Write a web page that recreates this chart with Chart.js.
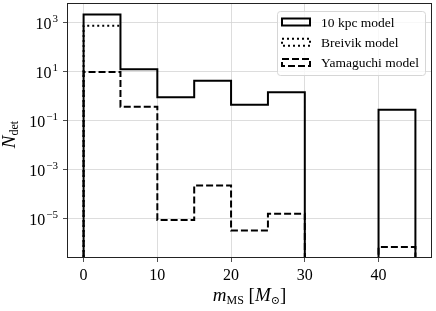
<!DOCTYPE html>
<html>
<head>
<meta charset="utf-8">
<script src="https://cdn.jsdelivr.net/npm/chart.js@4.4.0/dist/chart.umd.min.js"></script>
<style>
html, body { margin: 0; padding: 0; background: #fff; }
#wrap { width: 436px; height: 311px; position: relative; }
</style>
</head>
<body>
<div id="wrap"><canvas id="histChart"></canvas></div>
<script>
// histogram bins (M_sun) and counts per bin
const binEdges = [0, 5, 10, 15, 20, 25, 30, 35, 40, 45];
const tenKpc = [2130, 12.5, 0.9, 4.3, 0.45, 1.45, 0, 0, 0.28];
const breivik = [750, null, null, null, null, null, null, null, null];
const yamaguchi = [9.7, 0.37, 9e-6, 2.3e-4, 3.3e-6, 1.6e-5, 0, 0, 7e-7];
const seriesNames = ['10 kpc model', 'Breivik model', 'Yamaguchi model'];
const seriesDash = [[], [2, 3], [7, 3]];
const xTicks = [0, 10, 20, 30, 40];
const yExponents = [3, 1, -1, -3, -5];

const xMin = -2.25, xMax = 47.25;
const yMin = Math.pow(10, -6.6), yMax = Math.pow(10, 3.8);
const serif = "'Liberation Serif', 'DejaVu Serif', serif";

// turn bin values into the outline of a step histogram
function stepPoints(values) {
    const floor = yMin / 100;   // zero bins drop below the axis
    const pts = [{x: binEdges[0], y: floor}];
    values.forEach(function (v, i) {
        if (v === null) {
            pts.push({x: binEdges[i], y: null});
            return;
        }
        const y = v > 0 ? v : floor;
        pts.push({x: binEdges[i], y: y});
        pts.push({x: binEdges[i + 1], y: y});
    });
    pts.push({x: binEdges[binEdges.length - 1], y: floor});
    return pts;
}

const seriesValues = [tenKpc, breivik, yamaguchi];

const extras = {
    id: 'extras',
    afterDraw: function (chart) {
        const c = chart.ctx;
        const a = chart.chartArea;
        const ys = chart.scales.y;

        // y tick labels 10^n
        c.save();
        c.fillStyle = '#000';
        c.textBaseline = 'alphabetic';
        yExponents.forEach(function (e) {
            const py = ys.getPixelForValue(Math.pow(10, e));
            const exp = e < 0 ? '\u2212' + (-e) : String(e);
            c.font = '11px ' + serif;
            const we = c.measureText(exp).width;
            c.font = '16px ' + serif;
            const wb = c.measureText('10').width;
            const right = a.left - 9;
            c.fillText('10', right - we - wb - 1, py + 6);
            c.font = '11px ' + serif;
            c.fillText(exp, right - we, py - 1);
        });
        c.restore();

        // frame
        c.save();
        c.strokeStyle = '#222';
        c.lineWidth = 1;
        c.strokeRect(a.left + 0.5, a.top + 0.5, a.right - a.left - 1, a.bottom - a.top - 1);
        c.restore();

        // x axis title: m_MS [M_sun]
        c.save();
        c.fillStyle = '#000';
        c.textBaseline = 'alphabetic';
        const parts = [
            {t: 'm', f: 'italic 19px ' + serif, dy: 0},
            {t: 'MS', f: '12px ' + serif, dy: 3},
            {t: ' [', f: '19px ' + serif, dy: 0},
            {t: 'M', f: 'italic 19px ' + serif, dy: 0},
            {t: '\u2299', f: '11px ' + serif, dy: 3},
            {t: ']', f: '19px ' + serif, dy: 0}
        ];
        let total = 0;
        parts.forEach(function (p) { c.font = p.f; p.w = c.measureText(p.t).width; total += p.w; });
        let px = (a.left + a.right) / 2 - total / 2;
        parts.forEach(function (p) {
            c.font = p.f;
            c.fillText(p.t, px, 301 + p.dy);
            px += p.w;
        });
        c.restore();

        // y axis title: N_det
        c.save();
        c.translate(15, (a.top + a.bottom) / 2 + 4);
        c.rotate(-Math.PI / 2);
        c.fillStyle = '#000';
        c.font = 'italic 19px ' + serif;
        const wn = c.measureText('N').width;
        c.font = '12px ' + serif;
        const wd = c.measureText('det').width;
        c.font = 'italic 19px ' + serif;
        c.fillText('N', -(wn + wd) / 2, 0);
        c.font = '12px ' + serif;
        c.fillText('det', -(wn + wd) / 2 + wn, 3);
        c.restore();

        // legend in the upper right
        c.save();
        const lx = 277, ly = 11, lw = 148, lh = 64;
        c.beginPath();
        c.roundRect(lx + 0.5, ly + 0.5, lw, lh, 3);
        c.fillStyle = 'rgba(255,255,255,0.8)';
        c.fill();
        c.strokeStyle = '#d6d6d6';
        c.lineWidth = 1;
        c.stroke();
        seriesNames.forEach(function (name, i) {
            const cy = 22 + i * 20.3;
            c.strokeStyle = '#000';
            c.lineWidth = 2;
            c.setLineDash(seriesDash[i]);
            c.strokeRect(282, cy - 3.5, 28, 7);
            c.setLineDash([]);
            c.fillStyle = '#000';
            c.font = '13.5px ' + serif;
            c.textBaseline = 'middle';
            c.fillText(name, 321, cy + 1);
        });
        c.restore();
    }
};

const ctx = document.getElementById('histChart').getContext('2d');
new Chart(ctx, {
    type: 'line',
    data: {
        datasets: seriesNames.map(function (name, i) {
            return {
                label: name,
                data: stepPoints(seriesValues[i]),
                borderColor: '#000',
                borderWidth: 2,
                borderDash: seriesDash[i],
                pointRadius: 0,
                fill: false,
                tension: 0,
                spanGaps: false,
                clip: 0
            };
        })
    },
    options: {
        responsive: true,
        maintainAspectRatio: false,
        animation: false,
        layout: { padding: { top: 3, right: 4, left: 0, bottom: 0 } },
        plugins: {
            legend: { display: false },
            tooltip: { enabled: false }
        },
        scales: {
            x: {
                type: 'linear',
                min: xMin,
                max: xMax,
                afterBuildTicks: function (s) {
                    s.ticks = xTicks.map(function (v) { return {value: v}; });
                },
                afterFit: function (s) { s.height = 53; },
                ticks: {
                    color: '#000',
                    font: { family: serif, size: 16 },
                    padding: 4,
                    maxRotation: 0
                },
                grid: {
                    color: '#d4d4d4',
                    lineWidth: 0.8,
                    tickLength: 4,
                    tickColor: '#222',
                    tickWidth: 0.8
                },
                border: { display: false }
            },
            y: {
                type: 'logarithmic',
                min: yMin,
                max: yMax,
                afterBuildTicks: function (s) {
                    s.ticks = yExponents.map(function (e) { return {value: Math.pow(10, e)}; });
                },
                afterFit: function (s) { s.width = 67; },
                ticks: { display: false },
                grid: {
                    color: '#d4d4d4',
                    lineWidth: 0.8,
                    tickLength: 4,
                    tickColor: '#222',
                    tickWidth: 0.8
                },
                border: { display: false }
            }
        }
    },
    plugins: [extras]
});
</script>
</body>
</html>
